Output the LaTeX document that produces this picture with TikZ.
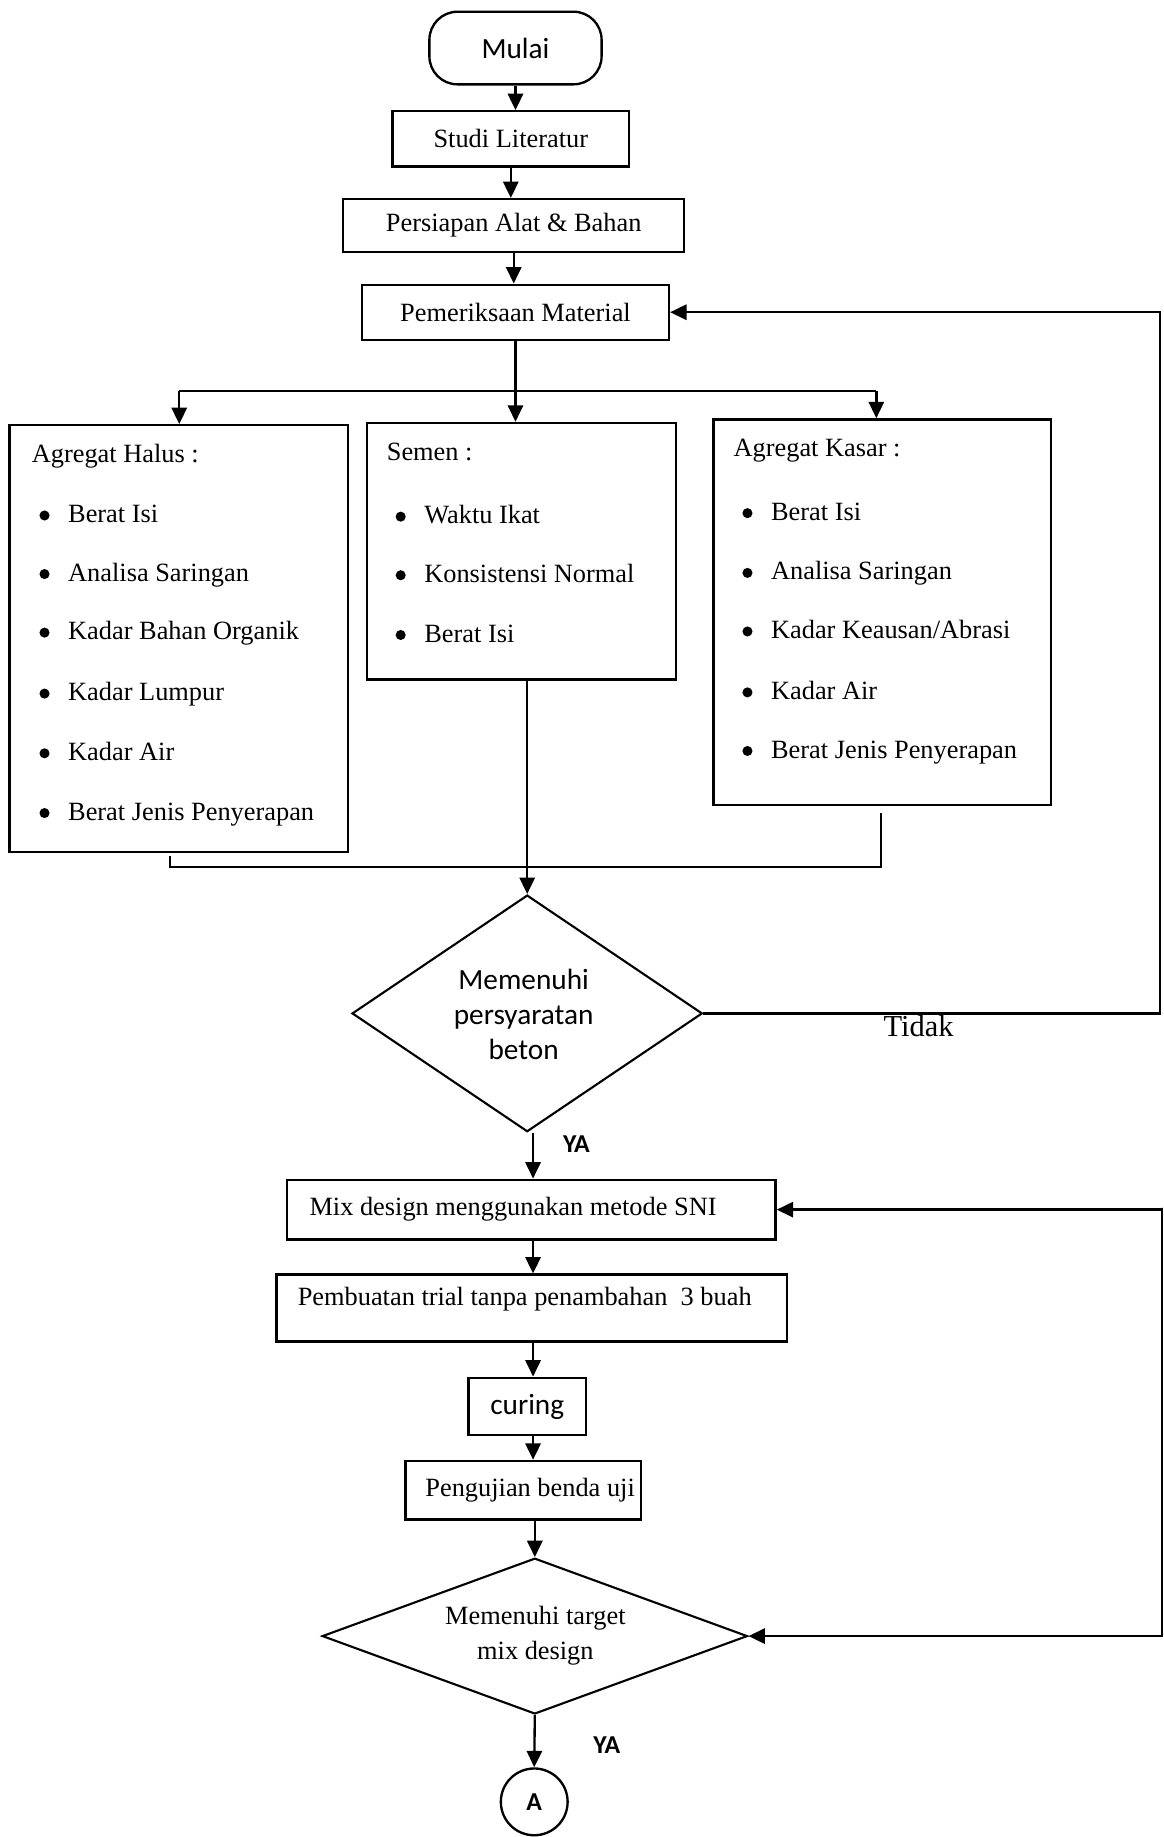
\documentclass[tikz,border=0pt]{standalone}
\usepackage{fontspec}
\setmainfont{Liberation Serif}
\newfontfamily\calib{Carlito}
\usetikzlibrary{shapes.geometric,arrows.meta}
\newcommand\tms{\fontsize{22.5}{30}\selectfont}
\newcommand\clb{\calib\fontsize{25}{30}\selectfont}
\begin{document}
\begin{tikzpicture}[x=1pt,y=-1pt,
  box/.style={draw, line width=2pt, inner sep=0pt, font=\tms},
  lst/.style={draw, line width=2pt, inner sep=0pt},
  item/.style={anchor=base west, inner sep=0pt, font=\tms},
  dia/.style={draw, diamond, line width=1.8pt, inner sep=0pt},
  ln/.style={line width=2pt},
  arr/.style={line width=2pt, -{Triangle[length=14pt,width=13pt]}},
  arrb/.style={line width=2pt, {Triangle[length=14pt,width=13pt]}-{Triangle[length=14pt,width=13pt]}},
  lbl/.style={inner sep=0pt}]
\useasboundingbox (0,0) rectangle (993,1568);

% top column
\node[box, rounded corners=24pt, minimum width=147pt, minimum height=62pt, font=\clb] (mulai) at (440,41) {Mulai};
\node[box, minimum width=202pt, minimum height=47pt] (studi) at (436,118.5) {Studi Literatur};
\node[box, minimum width=291pt, minimum height=45pt] (persiapan) at (438.5,192.5) {Persiapan Alat \& Bahan};
\node[box, minimum width=262pt, minimum height=47pt] (pem) at (440,266.5) {Pemeriksaan Material};

\draw[arr] (mulai.south) -- (mulai.south |- studi.north);
\draw[arr] (studi.south) -- (studi.south |- persiapan.north);
\draw[arr] (persiapan.south) -- (persiapan.south |- pem.north);

% list boxes
\node[lst, minimum width=289pt, minimum height=364pt] (halus) at (152.5,545) {};
\node[lst, minimum width=264pt, minimum height=219pt] (semen) at (445,470.5) {};
\node[lst, minimum width=288pt, minimum height=329pt] (kasar) at (753,522.5) {};

\node[item] (hh) at (27,395) {Agregat Halus :};
\node[item] (h1) at (58,446) {Berat Isi};
\node[item] (h2) at (58,496) {Analisa Saringan};
\node[item] (h3) at (58,546) {Kadar Bahan Organik};
\node[item] (h4) at (58,598) {Kadar Lumpur};
\node[item] (h5) at (58,649) {Kadar Air};
\node[item] (h6) at (58,700) {Berat Jenis Penyerapan};

\node[item] (sh) at (330,393) {Semen :};
\node[item] (s1) at (362,447) {Waktu Ikat};
\node[item] (s2) at (362,497) {Konsistensi Normal};
\node[item] (s3) at (362,548) {Berat Isi};

\node[item] (kh) at (626,390) {Agregat Kasar :};
\node[item] (k1) at (658,444) {Berat Isi};
\node[item] (k2) at (658,495) {Analisa Saringan};
\node[item] (k3) at (658,545) {Kadar Keausan/Abrasi};
\node[item] (k4) at (658,597) {Kadar Air};
\node[item] (k5) at (658,647) {Berat Jenis Penyerapan};

\foreach \n in {h1,h2,h3,h4,h5,h6,s1,s2,s3,k1,k2,k3,k4,k5}
  \fill ([shift={(-20,-6)}]\n.base west) circle (4.3pt);

% branch
\coordinate (bL) at (153,334);
\coordinate (bR) at (748,334);
\draw[ln] (bL) -- (bR);
\draw[arr] (pem.south) -- (pem.south |- semen.north);
\draw[arr] (bL) -- (bL |- halus.north);
\draw[arr] (bR) -- (bR |- kasar.north);

% decision 1
\node[dia, minimum width=299pt, minimum height=202pt] (d1) at (450,865) {};
\node[lbl, font=\clb, align=center] (d1t) at (447,866) {Memenuhi\\persyaratan\\beton};

% merge
\coordinate (mL) at (145,731);
\coordinate (mLb) at (145,740);
\coordinate (mRb) at (752,740);
\coordinate (mR) at (752,694);
\draw[ln] (mL) -- (mLb) -- (mRb) -- (mR);
\draw[arr] (semen.south -| d1.north) -- (d1.north);

% Tidak loop
\coordinate (c1) at (990,300);
\draw[arr] (d1.east) -| (c1) |- (pem.east);
\node[lbl, font=\fontsize{26}{30}\selectfont] (tidak) at (784,876) {Tidak};
\node[lbl, font=\calib\bfseries\fontsize{22}{26}\selectfont] (ya1) at (492,977) {YA};

% lower column
\coordinate (col) at (455,0);
\node[box, minimum width=417pt, minimum height=51pt] (mix) at (453.5,1032.5) {};
\node[item, anchor=west] (mixt) at (264,1032) {Mix design menggunakan metode SNI};
\node[box, minimum width=436pt, minimum height=57pt] (pemb) at (454,1116.5) {};
\node[item, anchor=west] (pembt) at (254,1109) {Pembuatan trial tanpa penambahan\ \ 3 buah};
\node[box, minimum width=100pt, minimum height=49pt, font=\clb] (curing) at (450,1200.5) {curing};
\node[box, minimum width=201pt, minimum height=50pt] (peng) at (446.5,1272) {\hspace{12pt}Pengujian benda uji};
\node[dia, minimum width=363pt, minimum height=133pt] (d2) at (456.5,1396.5) {};
\node[lbl, font=\tms, align=center] (d2t) at (457,1396) {Memenuhi target\\mix design};
\node[draw, circle, line width=2pt, minimum size=57pt, inner sep=0pt, font=\calib\bfseries\fontsize{22}{26}\selectfont] (a) at (456,1538) {A};

\draw[arr] (d1.south -| col) -- (mix.north -| col);
\draw[arr] (mix.south -| col) -- (pemb.north -| col);
\draw[arr] (pemb.south -| col) -- (curing.north -| col);
\draw[arr] (curing.south -| col) -- (peng.north -| col);
\draw[arr] (peng.south -| d2.north) -- (d2.north);
\draw[arr] (d2.south) -- (a.north);

\coordinate (c2) at (992,1031);
\draw[arrb] (d2.east) -| (c2) |- (mix.east);
\node[lbl, font=\calib\bfseries\fontsize{22}{26}\selectfont] (ya2) at (518,1490) {YA};
\end{tikzpicture}
\end{document}
